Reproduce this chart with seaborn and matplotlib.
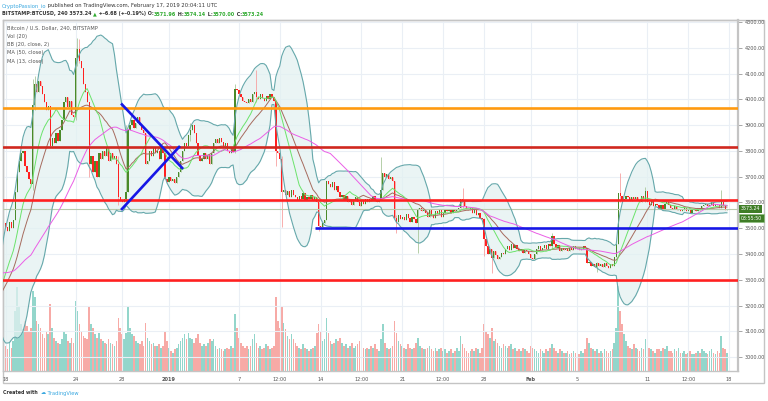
import numpy as np
import pandas as pd
import matplotlib
matplotlib.use("Agg")
import matplotlib.pyplot as plt
import matplotlib.transforms as mtransforms
from matplotlib.patches import Rectangle
import seaborn as sns

# 4h closes Dec 9 - Dec 17 2018, only there to warm up the indicators (off screen)
warmup_close = [
    3560, 3540, 3520, 3500, 3480, 3460,
    3440, 3420, 3400, 3390, 3380, 3400,
    3390, 3380, 3370, 3390, 3380, 3370,
    3380, 3400, 3430, 3450, 3440, 3430,
    3410, 3360, 3320, 3300, 3280, 3270,
    3260, 3240, 3220, 3210, 3230, 3200,
    3190, 3180, 3200, 3190, 3210, 3195,
    3200, 3215, 3230, 3240, 3225, 3250,
    3260, 3290, 3350, 3430, 3490, 3520,
]

# BITSTAMP:BTCUSD 4h closes, Dec 18 2018 00:00 -> Feb 17 2019 20:00 (one row = one day)
close = [
    3505, 3490, 3525, 3500, 3530, 3640,
    3720, 3760, 3790, 3800, 3740, 3720,
    3690, 3670, 3980, 4060, 4030, 4070,
    4050, 4020, 3990, 3960, 3975, 3820,
    3850, 3830, 3870, 3840, 3880, 3920,
    3990, 4010, 3970, 3995, 3940, 3930,
    4160, 4195, 4150, 4120, 4060, 4030,
    3990, 3750, 3780, 3720, 3760, 3700,
    3790, 3770, 3800, 3780, 3810, 3760,
    3790, 3770, 3780, 3750, 3620, 3605,
    3600, 3615, 3640, 3880, 3900, 3920,
    3890, 3910, 3930, 3900, 3880, 3870,
    3750, 3760, 3800, 3780, 3810, 3790,
    3800, 3770, 3810, 3790, 3690, 3680,
    3700, 3685, 3690, 3675, 3700, 3720,
    3760, 3800, 3830, 3820, 3860, 3880,
    3900, 3870, 3830, 3780, 3760, 3770,
    3790, 3770, 3785, 3750, 3790, 3830,
    3845, 3830, 3850, 3835, 3820, 3830,
    3800, 3790, 3810, 3795, 4040, 4035,
    4020, 4010, 3995, 3990, 3985, 4000,
    3990, 4020, 4030, 4010, 4000, 4020,
    4005, 3995, 4015, 4000, 4020, 4010,
    3995, 3800, 3790, 3770, 3640, 3650,
    3630, 3645, 3620, 3650, 3630, 3620,
    3610, 3625, 3615, 3635, 3610, 3620,
    3615, 3630, 3605, 3620, 3600, 3510,
    3505, 3520, 3530, 3685, 3670, 3660,
    3680, 3650, 3665, 3640, 3620, 3630,
    3610, 3625, 3600, 3615, 3590, 3605,
    3620, 3600, 3585, 3610, 3595, 3615,
    3600, 3615, 3610, 3625, 3605, 3600,
    3610, 3650, 3715, 3700, 3710, 3690,
    3700, 3685, 3540, 3525, 3550, 3535,
    3545, 3530, 3555, 3540, 3525, 3545,
    3535, 3520, 3570, 3580, 3565, 3575,
    3560, 3545, 3570, 3550, 3540, 3565,
    3555, 3570, 3545, 3560, 3575, 3565,
    3570, 3560, 3575, 3565, 3570, 3580,
    3615, 3605, 3585, 3575, 3570, 3580,
    3560, 3570, 3550, 3560, 3540, 3535,
    3460, 3430, 3400, 3420, 3385, 3410,
    3395, 3380, 3390, 3405, 3400, 3420,
    3430, 3415, 3440, 3425, 3435, 3420,
    3410, 3420, 3405, 3415, 3410, 3400,
    3385, 3380, 3400, 3420, 3430, 3415,
    3425, 3435, 3420, 3440, 3430, 3470,
    3440, 3425, 3435, 3410, 3425, 3415,
    3420, 3410, 3425, 3415, 3430, 3420,
    3425, 3415, 3420, 3430, 3425, 3365,
    3370, 3355, 3360, 3350, 3365, 3355,
    3360, 3350, 3365, 3355, 3345, 3360,
    3355, 3390, 3440, 3635, 3625, 3610,
    3615, 3625, 3620, 3605, 3620, 3615,
    3620, 3610, 3600, 3625, 3615, 3645,
    3600, 3590, 3605, 3585, 3595, 3590,
    3575, 3590, 3570, 3595, 3600, 3590,
    3580, 3575, 3585, 3570, 3575, 3565,
    3570, 3580, 3565, 3575, 3560, 3570,
    3575, 3565, 3580, 3570, 3585, 3590,
    3595, 3585, 3590, 3600, 3585, 3595,
    3590, 3580, 3600, 3585, 3572, 3573.24,
]

# 4h volume (BTC), same bars
volume = [
    1500, 1300, 1700, 1400, 1800, 3600,
    5000, 3900, 2800, 2500, 3000, 2700,
    2400, 2600, 4800, 4400, 3000, 2800,
    2600, 2200, 2000, 2400, 2200, 4000,
    2600, 2000, 1800, 1700, 1600, 1900,
    2400, 2200, 1800, 1700, 2000, 1700,
    4200, 3600, 2800, 2400, 2100, 2000,
    1900, 3900, 2800, 2600, 2200, 2000,
    2300, 1900, 1800, 1700, 1600, 1900,
    1700, 1600, 1500, 1800, 3200, 2600,
    2200, 1900, 2300, 3800, 2600, 2200,
    2100, 1800, 1700, 1600, 1800, 1500,
    2900, 2000, 1800, 1600, 1700, 1500,
    1500, 1600, 1400, 1500, 2400, 1800,
    1400, 1200, 1100, 1300, 1400, 1600,
    1800, 2000, 2200, 1900, 2300, 2000,
    1900, 1700, 2000, 2200, 1700, 1500,
    1600, 1500, 1700, 1900, 1800, 1900,
    1500, 1300, 1400, 1300, 1200, 1300,
    1400, 1300, 1500, 1400, 3400, 2600,
    2000, 1700, 1500, 1400, 1500, 1300,
    1500, 1900, 2200, 1700, 1400, 1500,
    1300, 1400, 1600, 1500, 1300, 1400,
    1500, 4400, 3000, 2600, 3800, 2900,
    2500, 2100, 1900, 2200, 1900, 1700,
    1500, 1400, 1300, 1600, 1400, 1300,
    1200, 1300, 1400, 1500, 2300, 2800,
    2400, 1800, 1900, 3200, 2300, 1800,
    1600, 1700, 1900, 1800, 2000, 1700,
    1500, 1600, 1400, 1500, 1700, 1400,
    1500, 1600, 1800, 1700, 1400, 1300,
    1400, 1300, 1500, 1400, 1600, 1300,
    1200, 1900, 2800, 1700, 1400, 1300,
    1400, 1500, 3000, 2300, 1800, 1600,
    1500, 1400, 1300, 1600, 1400, 1300,
    1400, 1700, 2000, 1500, 1400, 1300,
    1300, 1400, 1500, 1300, 1200, 1400,
    1200, 1300, 1400, 1200, 1300, 1100,
    1200, 1300, 1100, 1200, 1400, 1200,
    2100, 1600, 1400, 1200, 1100, 1200,
    1300, 1200, 1400, 1300, 1100, 1400,
    2800, 2400, 2200, 2000, 2600, 1800,
    1900, 1700, 1500, 1400, 1600, 1500,
    1400, 1500, 1600, 1300, 1400, 1200,
    1300, 1200, 1400, 1300, 1200, 1100,
    1500, 1400, 1300, 1200, 1100, 1300,
    1200, 1100, 1300, 1200, 1400, 1600,
    1400, 1200, 1100, 1300, 1200, 1100,
    1100, 1200, 1000, 1100, 1200, 1100,
    1100, 1000, 1200, 1100, 1300, 2000,
    1700, 1400, 1300, 1200, 1300, 1100,
    1200, 1100, 1300, 1200, 1100, 1200,
    1300, 1700, 2600, 5100, 3600, 2800,
    2200, 1800, 1500, 1400, 1300, 1600,
    1400, 1300, 1200, 1400, 1300, 1900,
    1500, 1400, 1300, 1200, 1100, 1300,
    1300, 1200, 1400, 1300, 1500, 1200,
    1200, 1100, 1300, 1200, 1400, 1100,
    1100, 1200, 1000, 1100, 1200, 1000,
    1000, 1100, 1200, 1100, 1300, 1200,
    1100, 1000, 1200, 1300, 1100, 1000,
    1200, 1100, 2100, 1400, 1300, 1100,
]

# the long wicks worth drawing: bar -> (high, low)
wicks = {
    14: (4080, 3650), 15: (4090, 3960), 36: (4200, 3920), 37: (4238, 4130),
    38: (4236, 4140), 43: (3990, 3700), 58: (3780, 3590), 62: (3900, 3600),
    95: (3908, 3840), 118: (4060, 3790), 129: (4114, 3990), 139: (3995, 3740),
    142: (3780, 3505), 161: (3600, 3490), 193: (3776, 3610), 201: (3550, 3480),
    212: (3580, 3403), 235: (3656, 3580), 246: (3540, 3392), 250: (3420, 3326),
    281: (3481, 3420), 304: (3370, 3330), 316: (3714, 3600), 329: (3660, 3600),
    368: (3648, 3580),
}

tick_bars = [0, 36, 60, 84, 120, 141, 162, 183, 204, 225, 246, 270, 294, 330, 351, 372]
tick_labels = ["18", "24", "28", "2019", "7", "12:00", "14", "12:00", "21", "12:00",
               "28", "Feb", "5", "11", "12:00", "18"]
price_ticks = list(range(3000, 4301, 100))

# drawn levels
levels = [3965, 3815, 3610, 3300]
level_colors = ["#ff9a10", "#d0281f", "#ff2020", "#ff2020"]
support_price, support_start = 3500, 159
wedge = [((59.4, 3984), (91.3, 3730)), ((59.4, 3571), (89.7, 3819))]
last_price = 3573.24

sns.set_style("white")
plt.rcParams["font.family"] = ["DejaVu Sans"]

full = pd.Series(warmup_close + close, dtype=float)
n_warm = len(warmup_close)
df = pd.DataFrame({"bar": np.arange(len(full)) - n_warm, "close": full})
df["open"] = df["close"].shift(1)
df["ma13"] = full.rolling(13).mean()
df["ma50"] = full.rolling(50).mean()
df["basis"] = full.rolling(20).mean()
sd = full.rolling(20).std(ddof=0)
df["upper"] = df["basis"] + 2 * sd
df["lower"] = df["basis"] - 2 * sd
ind = df[df["bar"] >= -3]
df = df[df["bar"] >= 0].reset_index(drop=True)
df["volume"] = volume
df["up"] = df["close"] >= df["open"]
df["high"] = df[["open", "close"]].max(axis=1)
df["low"] = df[["open", "close"]].min(axis=1)
for b, (h, l) in wicks.items():
    df.loc[b, "high"] = h
    df.loc[b, "low"] = l

W, H = 768, 401
fig = plt.figure(figsize=(W / 100, H / 100), dpi=100)
L, R, T, B = 3, 738, 20, 371
rect = [L / W, 1 - B / H, (R - L) / W, (B - T) / H]
vax = fig.add_axes(rect)
ax = fig.add_axes(rect)
ax.set_zorder(2)
vax.set_zorder(1)
ax.patch.set_visible(False)
xlim = (-1.3, 376.6)

# volume behind everything
vax.bar(df["bar"], df["volume"], width=0.85, lw=0,
        color=np.where(df["up"], "#93d6cb", "#f7aaa6"))
vax.set_xlim(*xlim)
vax.set_ylim(0, 21000)
vax.axis("off")

# grid
for b in tick_bars:
    ax.axvline(b, color="#eaeff5", lw=0.8, zorder=0)
for p in price_ticks:
    ax.axhline(p, color="#eaeff5", lw=0.8, zorder=0)

# bollinger band + moving averages
ax.fill_between(ind["bar"], ind["lower"], ind["upper"], color="#e3f1f1", alpha=0.75, lw=0, zorder=1)
sns.lineplot(data=ind, x="bar", y="upper", ax=ax, color="#66a8ab", lw=0.8, zorder=4)
sns.lineplot(data=ind, x="bar", y="lower", ax=ax, color="#66a8ab", lw=0.8, zorder=4)
sns.lineplot(data=ind, x="bar", y="basis", ax=ax, color="#a66b5e", lw=0.7, zorder=4)
sns.lineplot(data=ind, x="bar", y="ma13", ax=ax, color="#6be36b", lw=0.7, zorder=4)
sns.lineplot(data=ind, x="bar", y="ma50", ax=ax, color="#ea5ee6", lw=0.7, zorder=4)

# candles
ax.vlines(df["bar"], df["low"], df["high"], lw=0.6, zorder=2,
          colors=np.where(df["up"], "#a9c79b", "#f7a1a1"))
body_lo = df[["open", "close"]].min(axis=1)
body_h = np.maximum((df["close"] - df["open"]).abs(), 2.5)
ax.bar(df["bar"], body_h, bottom=body_lo, width=0.65, lw=0, zorder=3,
       color=np.where(df["up"], "#4a8a2a", "#ff2020"))

# drawings
ax.axhline(last_price, color="#b9c9ab", lw=0.8, zorder=3)
for lv, c in zip(levels, level_colors):
    ax.axhline(lv, color=c, lw=1.9, zorder=5)
ax.hlines(support_price, support_start, xlim[1], color="#1717e6", lw=1.9, zorder=5)
for (x0, y0), (x1, y1) in wedge:
    ax.plot([x0, x1], [y0, y1], color="#1717e6", lw=1.9, zorder=5, solid_capstyle="butt")

ax.set_xlim(*xlim)
ax.set_ylim(2946, 4308)
ax.set_xlabel("")
ax.set_ylabel("")
ax.set_xticks(tick_bars)
ax.set_xticklabels(tick_labels)
for lab in ax.get_xticklabels():
    if lab.get_text() in ("2019", "Feb"):
        lab.set_fontweight("bold")
ax.set_yticks(price_ticks)
ax.set_yticklabels([f"{p:.2f}" for p in price_ticks])
ax.yaxis.tick_right()
ax.tick_params(axis="x", length=2, width=0.6, color="#999999", pad=2, labelsize=3.6, labelcolor="#555555")
ax.tick_params(axis="y", length=3, width=0.6, color="#999999", pad=2, labelsize=3.5, labelcolor="#555555")
for side in ("top", "left", "bottom", "right"):
    ax.spines[side].set_color("#c4c4c4")
    ax.spines[side].set_linewidth(1.0)
ax.spines["right"].set_linewidth(1.6)

ident = mtransforms.IdentityTransform()
fig.patches.append(Rectangle((3, H - 383), 761, 363, transform=ident, fill=False,
                             ec="#c4c4c4", lw=1.0))

# current price tags
fig.text(741, H - 209, f"{last_price:.2f}", transform=ident, fontsize=3.4, color="white",
         va="center", ha="left", bbox=dict(boxstyle="square,pad=0.35", fc="#3f7d27", ec="none"))
fig.text(741, H - 218, "03:55:50", transform=ident, fontsize=3.4, color="white",
         va="center", ha="left", bbox=dict(boxstyle="square,pad=0.35", fc="#3f7d27", ec="#8cbf7a", lw=0.4))

renderer = fig.canvas.get_renderer()


def text_run(x, y, parts, size, weight="normal"):
    for s, color in parts:
        t = fig.text(x, H - y, s, transform=ident, color=color, fontsize=size,
                     fontweight=weight, va="center", ha="left")
        x += t.get_window_extent(renderer).width
    return x


dark, green = "#333333", "#2faa2f"
text_run(2, 6, [("CryptoPassion_io", "#3aa8e0"),
                (" published on TradingView.com, February 17, 2019 20:04:11 UTC", dark)], 3.75)
text_run(2, 14, [("BITSTAMP:BTCUSD, 240 3573.24 ", dark), ("▲", green), (" +-6.68 (+-0.19%) O:", dark),
                 ("3571.96", green), (" H:", dark), ("3574.14", green), (" L:", dark),
                 ("3570.00", green), (" C:", dark), ("3573.24", green)], 3.5, "bold")

legend_lines = ["Bitcoin / U.S. Dollar, 240, BITSTAMP", "Vol (20)", "BB (20, close, 2)",
                "MA (50, close)", "MA (13, close)"]
for i, s in enumerate(legend_lines):
    fig.text(7, H - (28 + 8.3 * i), s, transform=ident, fontsize=3.7, color="#555555",
             va="center", ha="left", zorder=10)

end = text_run(3, 393, [("Created with", "#333333")], 3.4, "bold")
text_run(end + 3, 393, [("☁", "#3aa8e0"), (" TradingView", "#3aa8e0")], 3.7)

fig.savefig("out.png", dpi=100)
